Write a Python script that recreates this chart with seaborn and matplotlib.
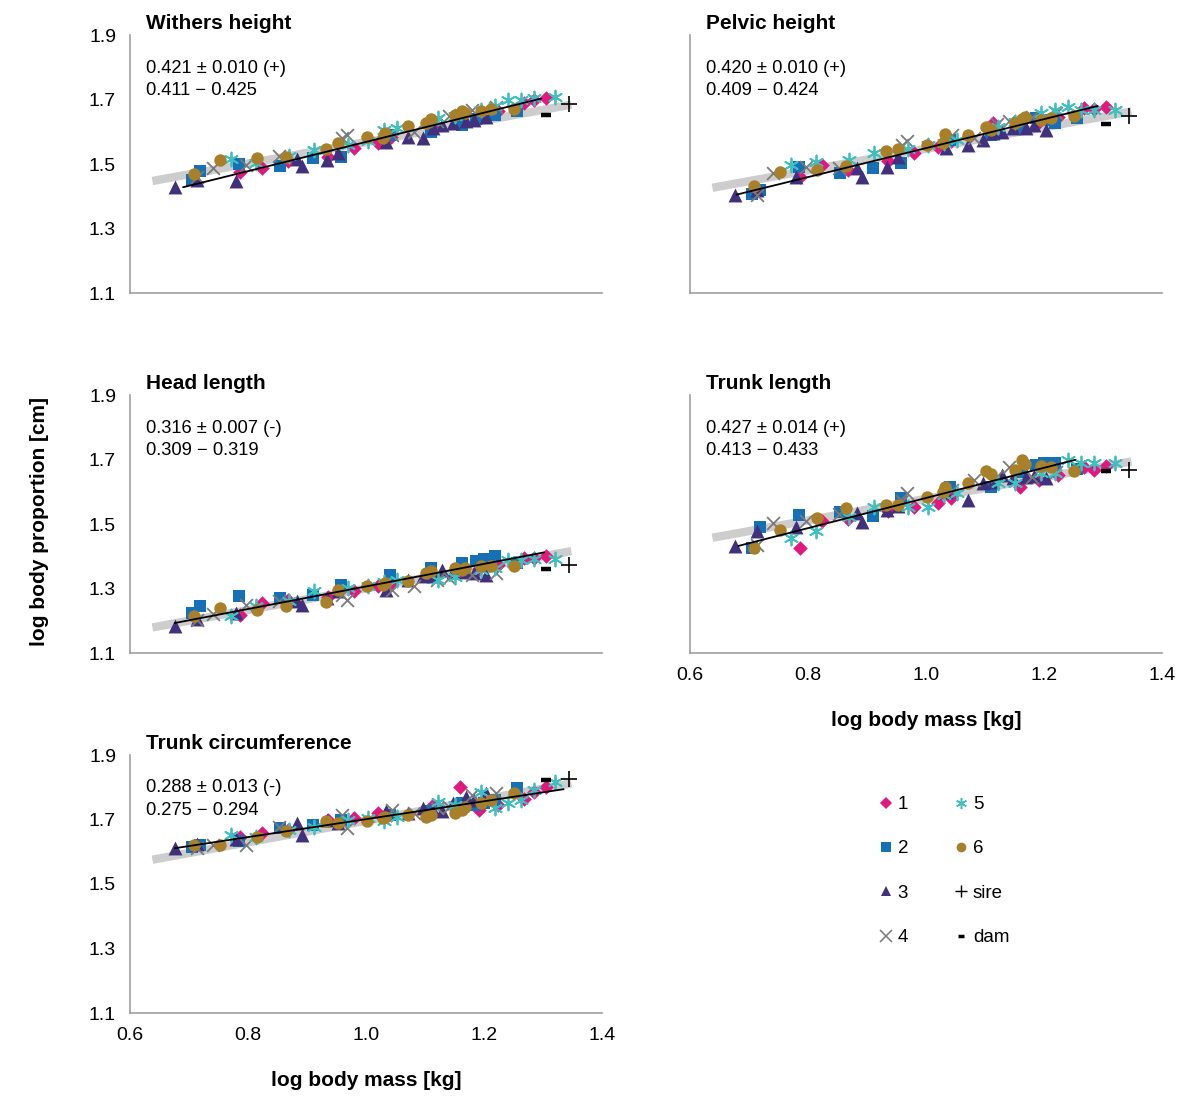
import numpy as np
import pandas as pd
import matplotlib
matplotlib.use("Agg")
import matplotlib.pyplot as plt
import seaborn as sns
from matplotlib.lines import Line2D

sns.set_style("white")
plt.rcParams['font.family'] = ['Liberation Sans', 'DejaVu Sans']
plt.rcParams['text.color'] = 'black'
plt.rcParams['axes.labelcolor'] = 'black'
plt.rcParams['xtick.color'] = 'black'
plt.rcParams['ytick.color'] = 'black'

# ---------------- data ----------------
GROUPS = ["1", "2", "3", "4", "5", "6"]
COLORS = {"1": "#E2187F", "2": "#1670B6", "3": "#41307C", "4": "#7A7A7A",
          "5": "#3FBFBF", "6": "#A8802A"}

# log body mass per group (shared by all panels)
X_G1 = [0.787, 0.823, 0.868, 0.935, 0.979, 1.020, 1.043, 1.113, 1.160, 1.192, 1.224, 1.268, 1.285, 1.305]
X_G2 = [0.705, 0.718, 0.785, 0.855, 0.910, 0.957, 1.040, 1.110, 1.163, 1.186, 1.200, 1.218, 1.256]
X_G3 = [0.676, 0.714, 0.779, 0.883, 0.891, 0.934, 0.953, 1.034, 1.072, 1.096, 1.113, 1.128, 1.148, 1.169, 1.183, 1.204]
X_G4 = [0.714, 0.740, 0.796, 0.852, 0.960, 0.968, 1.044, 1.082, 1.120, 1.140, 1.180, 1.220]
X_G5 = [0.772, 0.813, 0.869, 0.912, 0.970, 1.004, 1.031, 1.053, 1.122, 1.151, 1.195, 1.218, 1.241, 1.263, 1.285, 1.320]
X_G6 = [0.709, 0.753, 0.815, 0.864, 0.932, 0.953, 1.002, 1.029, 1.033, 1.071, 1.101, 1.110, 1.151, 1.163, 1.168, 1.195, 1.212, 1.250]

WITHERS = {
    "1": [1.474, 1.489, 1.510, 1.523, 1.550, 1.565, 1.585, 1.621, 1.628, 1.642, 1.665, 1.688, 1.698, 1.706],
    "2": [1.451, 1.478, 1.500, 1.494, 1.518, 1.523, 1.590, 1.600, 1.622, 1.640, 1.645, 1.652, 1.663],
    "3": [1.428, 1.451, 1.448, 1.515, 1.495, 1.513, 1.534, 1.567, 1.583, 1.580, 1.611, 1.621, 1.627, 1.632, 1.637, 1.647],
    "4": [1.460, 1.487, 1.497, 1.525, 1.580, 1.590, 1.590, 1.600, 1.632, 1.648, 1.668, 1.678],
    "5": [1.515, 1.503, 1.525, 1.544, 1.559, 1.570, 1.606, 1.611, 1.642, 1.650, 1.668, 1.680, 1.699, 1.699, 1.705, 1.709],
    "6": [1.470, 1.513, 1.518, 1.523, 1.546, 1.565, 1.583, 1.580, 1.596, 1.618, 1.627, 1.639, 1.652, 1.663, 1.657, 1.665, 1.670, 1.672],
}
PELVIC = {
    "1": [1.461, 1.497, 1.482, 1.508, 1.534, 1.554, 1.570, 1.627, 1.615, 1.630, 1.645, 1.673, 1.670, 1.676],
    "2": [1.408, 1.420, 1.492, 1.472, 1.487, 1.503, 1.575, 1.590, 1.615, 1.642, 1.635, 1.627, 1.642],
    "3": [1.405, 1.420, 1.461, 1.487, 1.461, 1.492, 1.523, 1.549, 1.559, 1.575, 1.596, 1.600, 1.611, 1.611, 1.621, 1.606],
    "4": [1.405, 1.472, 1.492, 1.487, 1.560, 1.570, 1.590, 1.580, 1.625, 1.632, 1.645, 1.657],
    "5": [1.497, 1.505, 1.513, 1.534, 1.545, 1.560, 1.565, 1.575, 1.615, 1.630, 1.657, 1.668, 1.678, 1.668, 1.668, 1.668],
    "6": [1.432, 1.474, 1.482, 1.495, 1.539, 1.546, 1.559, 1.565, 1.592, 1.590, 1.616, 1.606, 1.627, 1.640, 1.647, 1.637, 1.642, 1.649],
}
HEAD = {
    "1": [1.219, 1.255, 1.265, 1.275, 1.291, 1.307, 1.315, 1.340, 1.352, 1.360, 1.372, 1.394, 1.395, 1.400],
    "2": [1.224, 1.245, 1.276, 1.270, 1.281, 1.312, 1.343, 1.365, 1.379, 1.384, 1.390, 1.400, 1.380],
    "3": [1.183, 1.205, 1.224, 1.260, 1.250, 1.270, 1.291, 1.296, 1.327, 1.338, 1.340, 1.358, 1.350, 1.352, 1.348, 1.343],
    "4": [1.203, 1.222, 1.250, 1.260, 1.280, 1.265, 1.296, 1.307, 1.327, 1.332, 1.343, 1.348],
    "5": [1.214, 1.245, 1.262, 1.291, 1.301, 1.307, 1.320, 1.327, 1.327, 1.335, 1.358, 1.365, 1.389, 1.389, 1.390, 1.391],
    "6": [1.214, 1.240, 1.234, 1.247, 1.258, 1.296, 1.307, 1.312, 1.317, 1.322, 1.348, 1.353, 1.363, 1.358, 1.363, 1.369, 1.369, 1.369],
}
TRUNK_LEN = {
    "1": [1.425, 1.508, 1.515, 1.539, 1.554, 1.565, 1.580, 1.625, 1.616, 1.635, 1.652, 1.678, 1.668, 1.680],
    "2": [1.425, 1.492, 1.528, 1.536, 1.525, 1.580, 1.616, 1.616, 1.660, 1.683, 1.688, 1.688, 1.670],
    "3": [1.432, 1.477, 1.492, 1.534, 1.505, 1.544, 1.555, 1.600, 1.575, 1.626, 1.630, 1.652, 1.642, 1.647, 1.650, 1.642],
    "4": [1.435, 1.503, 1.508, 1.530, 1.570, 1.596, 1.605, 1.637, 1.650, 1.678, 1.647, 1.660],
    "5": [1.456, 1.477, 1.523, 1.554, 1.554, 1.554, 1.590, 1.596, 1.627, 1.627, 1.657, 1.657, 1.698, 1.688, 1.688, 1.688],
    "6": [1.425, 1.482, 1.518, 1.549, 1.559, 1.559, 1.585, 1.600, 1.616, 1.627, 1.663, 1.655, 1.668, 1.699, 1.685, 1.680, 1.678, 1.665],
}
TRUNK_CIRC = {
    "1": [1.647, 1.657, 1.668, 1.699, 1.704, 1.719, 1.715, 1.745, 1.802, 1.730, 1.745, 1.763, 1.785, 1.800],
    "2": [1.616, 1.621, 1.632, 1.673, 1.683, 1.699, 1.714, 1.725, 1.750, 1.745, 1.750, 1.760, 1.797],
    "3": [1.611, 1.625, 1.640, 1.688, 1.652, 1.700, 1.690, 1.725, 1.720, 1.735, 1.730, 1.725, 1.750, 1.771, 1.760, 1.781],
    "4": [1.611, 1.621, 1.621, 1.678, 1.714, 1.673, 1.730, 1.720, 1.735, 1.740, 1.776, 1.781],
    "5": [1.652, 1.647, 1.668, 1.678, 1.700, 1.704, 1.694, 1.709, 1.755, 1.745, 1.786, 1.735, 1.750, 1.760, 1.792, 1.817],
    "6": [1.621, 1.621, 1.647, 1.663, 1.694, 1.688, 1.694, 1.704, 1.709, 1.714, 1.709, 1.714, 1.719, 1.730, 1.740, 1.750, 1.760, 1.781],
}

TITLES = ["Withers height", "Pelvic height", "Head length", "Trunk length", "Trunk circumference"]
SLOPE_TXT = ["0.421 ± 0.010 (+)", "0.420 ± 0.010 (+)", "0.316 ± 0.007 (-)", "0.427 ± 0.014 (+)", "0.288 ± 0.013 (-)"]
CI_TXT = ["0.411 − 0.425", "0.409 − 0.424", "0.309 − 0.319", "0.413 − 0.433", "0.275 − 0.294"]

# fitted regression line (start/end)
FIT_X0 = [0.690, 0.679, 0.676, 0.682, 0.676]
FIT_X1 = [1.297, 1.291, 1.302, 1.253, 1.335]
FIT_Y0 = [1.428, 1.405, 1.193, 1.432, 1.611]
FIT_Y1 = [1.703, 1.680, 1.412, 1.699, 1.794]
# isometric reference (slope 1/3), value at log mass = 1
ISO_AT1 = [1.568, 1.547, 1.300, 1.578, 1.696]
ISO_SLOPE = 1.0 / 3.0
ISO_RANGE = [0.638, 1.348]

SIRE_X, DAM_X = 1.344, 1.305
SIRE_Y = [1.685, 1.649, 1.374, 1.668, 1.825]
DAM_Y = [1.652, 1.624, 1.360, 1.663, 1.823]

XTICKS = [0.6, 0.8, 1.0, 1.2, 1.4]
YTICKS = [1.1, 1.3, 1.5, 1.7, 1.9]

# ---------------- style ----------------
X_BY_GROUP = {"1": X_G1, "2": X_G2, "3": X_G3, "4": X_G4, "5": X_G5, "6": X_G6}
MARKERS = {"1": "D", "2": "s", "3": "^", "4": "x", "5": (6, 2, 0), "6": "o"}
SIZES = {"1": 55, "2": 65, "3": 100, "4": 85, "5": 100, "6": 80}
SPINE = "#A0A0A0"

fig = plt.figure(figsize=(12, 11.2), dpi=100)
W = 472 / 1200
H = 258 / 1120
positions = [
    (130 / 1200, 1 - 293 / 1120),
    (690 / 1200, 1 - 293 / 1120),
    (130 / 1200, 1 - 653 / 1120),
    (690 / 1200, 1 - 653 / 1120),
    (130 / 1200, 1 - 1013 / 1120),
]
panel_data = [WITHERS, PELVIC, HEAD, TRUNK_LEN, TRUNK_CIRC]
show_xlabels = [False, False, False, True, True]
show_ylabels = [True, False, True, False, True]

for i, (pos, data) in enumerate(zip(positions, panel_data)):
    ax = fig.add_axes([pos[0], pos[1], W, H])
    # isometric grey band
    xs = np.array(ISO_RANGE)
    ax.plot(xs, ISO_AT1[i] + ISO_SLOPE * (xs - 1.0), color="#CDCDCD", lw=6, solid_capstyle="butt", zorder=1)
    for g in GROUPS:
        df = pd.DataFrame({"mass": X_BY_GROUP[g], "prop": data[g]})
        m = MARKERS[g]
        if g in ("4", "5"):
            sns.scatterplot(data=df, x="mass", y="prop", marker=m, color=COLORS[g], s=SIZES[g],
                            linewidth=1.3, ax=ax, zorder=3, legend=False)
        else:
            sns.scatterplot(data=df, x="mass", y="prop", marker=m, color=COLORS[g], s=SIZES[g],
                            linewidth=0, ax=ax, zorder=3, legend=False)
    ax.plot([FIT_X0[i], FIT_X1[i]], [FIT_Y0[i], FIT_Y1[i]], color="black", lw=1.3, zorder=4)
    ax.plot([SIRE_X], [SIRE_Y[i]], marker="+", color="black", ms=12, mew=1.2, ls="none", zorder=5)
    ax.plot([DAM_X], [DAM_Y[i]], marker="_", color="black", ms=6.5, mew=3.2, ls="none", zorder=5)

    ax.set_xlim(0.6, 1.4)
    ax.set_ylim(1.1, 1.9)
    ax.set_xticks(XTICKS)
    ax.set_yticks(YTICKS)
    ax.set_xticklabels([f"{v:.1f}" for v in XTICKS])
    ax.set_yticklabels([f"{v:.1f}" for v in YTICKS])
    ax.set_xlabel("")
    ax.set_ylabel("")
    sns.despine(ax=ax)
    for side in ("left", "bottom"):
        ax.spines[side].set_color(SPINE)
        ax.spines[side].set_linewidth(1.2)
    ax.tick_params(axis="both", direction="out", length=5, width=1.2, color=SPINE,
                   labelsize=14, labelcolor="black", pad=5)
    ax.tick_params(axis="x", labelbottom=show_xlabels[i])
    ax.tick_params(axis="y", labelleft=show_ylabels[i])
    ax.set_facecolor("white")

    ax.annotate(TITLES[i], xy=(0, 1), xycoords="axes fraction", xytext=(11.5, 4),
                textcoords="offset points", fontsize=15, fontweight="bold", ha="left", va="baseline")
    ax.annotate(SLOPE_TXT[i], xy=(0, 1), xycoords="axes fraction", xytext=(11.5, -27),
                textcoords="offset points", fontsize=13.2, ha="left", va="baseline")
    ax.annotate(CI_TXT[i], xy=(0, 1), xycoords="axes fraction", xytext=(11.5, -43),
                textcoords="offset points", fontsize=13.2, ha="left", va="baseline")

fig.text(40 / 1200, 1 - 522 / 1120, "log body proportion [cm]", rotation=90, fontsize=15,
         fontweight="bold", ha="center", va="center")
fig.text(366 / 1200, 1 - 1080 / 1120, "log body mass [kg]", fontsize=15, fontweight="bold",
         ha="center", va="center")
fig.text(926 / 1200, 1 - 720 / 1120, "log body mass [kg]", fontsize=15, fontweight="bold",
         ha="center", va="center")

# legend
handles = []
labels = []
for g in GROUPS:
    if g in ("4", "5"):
        h = Line2D([], [], ls="none", marker=MARKERS[g], color=COLORS[g], ms=8, mew=1.1)
    else:
        h = Line2D([], [], ls="none", marker=MARKERS[g], color=COLORS[g], ms=6 if g == "1" else 7, mew=0)
    handles.append(h)
    labels.append(g)
handles.append(Line2D([], [], ls="none", marker="+", color="black", ms=9, mew=1.0))
labels.append("sire")
handles.append(Line2D([], [], ls="none", marker="_", color="black", ms=5, mew=2.5))
labels.append("dam")
fig.legend(handles, labels, ncol=2, loc="upper left", bbox_to_anchor=(878 / 1200, 1 - 796 / 1120),
           frameon=False, fontsize=13.5, labelspacing=1.45, handlelength=0.8, handletextpad=0.25,
           columnspacing=2.4, borderpad=0, borderaxespad=0)

fig.savefig("out.png", dpi=100, facecolor="white")
